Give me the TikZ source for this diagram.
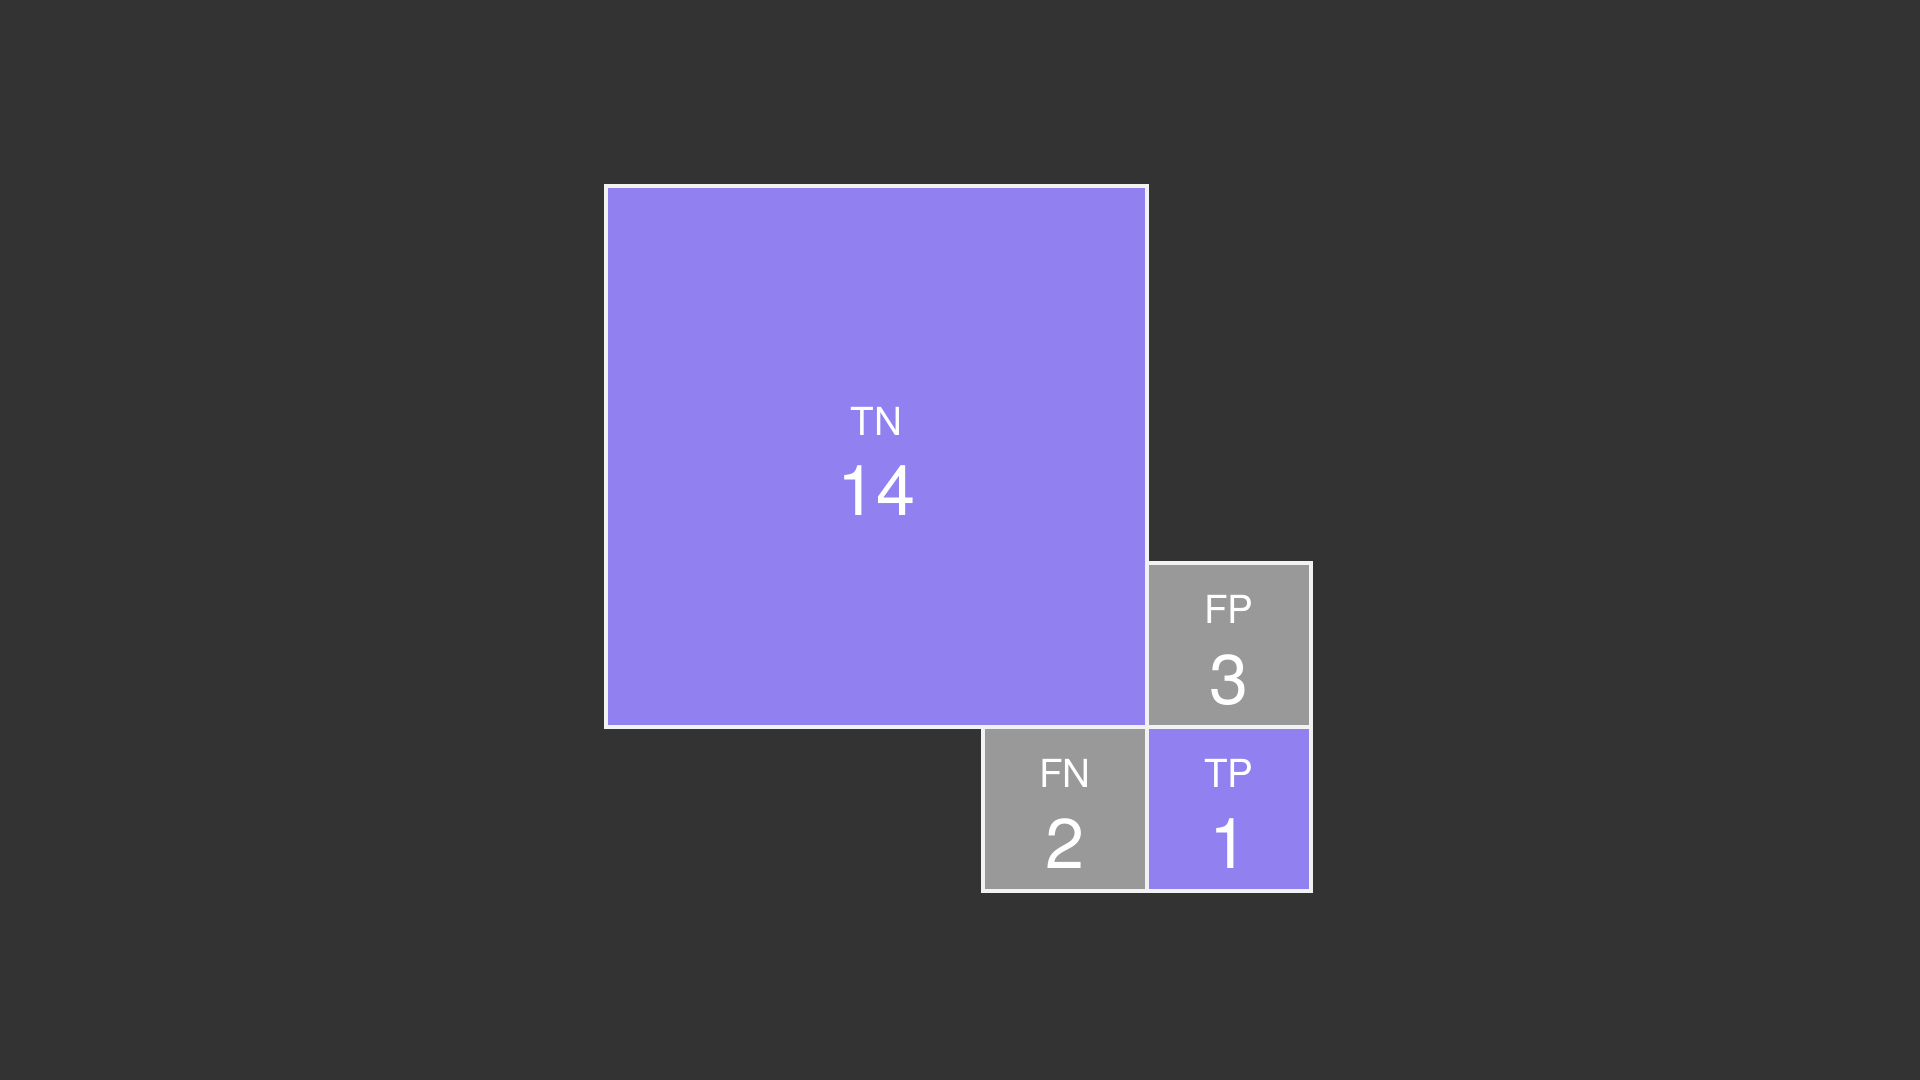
\documentclass[tikz,border=0pt]{standalone}
\usepackage{xcolor}
\usepackage{fontspec}
\setmainfont{TeX Gyre Heros}
\usepackage{tikz}
\usetikzlibrary{positioning}

\definecolor{bgdark}{HTML}{333333}
\definecolor{truecol}{HTML}{9180F0}
\definecolor{falsecol}{HTML}{999999}
\definecolor{edgecol}{HTML}{F2F2F2}

\tikzset{
  cell/.style={rectangle,draw=edgecol,line width=0.04cm,outer sep=0pt,inner sep=0pt},
  small/.style={cell,minimum size=1.64cm},
  lab/.style={text=white,inner sep=0pt,font=\fontsize{11pt}{13pt}\selectfont},
  num/.style={text=white,inner sep=0pt,font=\fontsize{20pt}{24pt}\selectfont}
}

\begin{document}
\begin{tikzpicture}
\fill[bgdark] (0,0) rectangle (19.2,10.8);
\useasboundingbox (0,0) rectangle (19.2,10.8);
\node[cell,fill=truecol,minimum size=5.41cm,anchor=north west] (tn) at (6.06,8.94) {};
\node[small,fill=falsecol,anchor=south west] (fp) at (tn.south east) {};
\node[small,fill=truecol,anchor=north west] (tp) at (tn.south east) {};
\node[small,fill=falsecol,anchor=north east] (fn) at (tn.south east) {};
\node[lab] (tn-lab) at ([yshift=0.35cm]tn.center) {TN};
\node[num] (tn-num) at ([yshift=-0.34cm]tn.center) {14};
\node[lab] (fp-lab) at ([yshift=0.36cm]fp.center) {FP};
\node[num] (fp-num) at ([yshift=-0.35cm]fp.center) {3};
\node[lab] (fn-lab) at ([yshift=0.36cm]fn.center) {FN};
\node[num] (fn-num) at ([yshift=-0.35cm]fn.center) {2};
\node[lab] (tp-lab) at ([yshift=0.36cm]tp.center) {TP};
\node[num] (tp-num) at ([yshift=-0.35cm]tp.center) {1};
\end{tikzpicture}
\end{document}
